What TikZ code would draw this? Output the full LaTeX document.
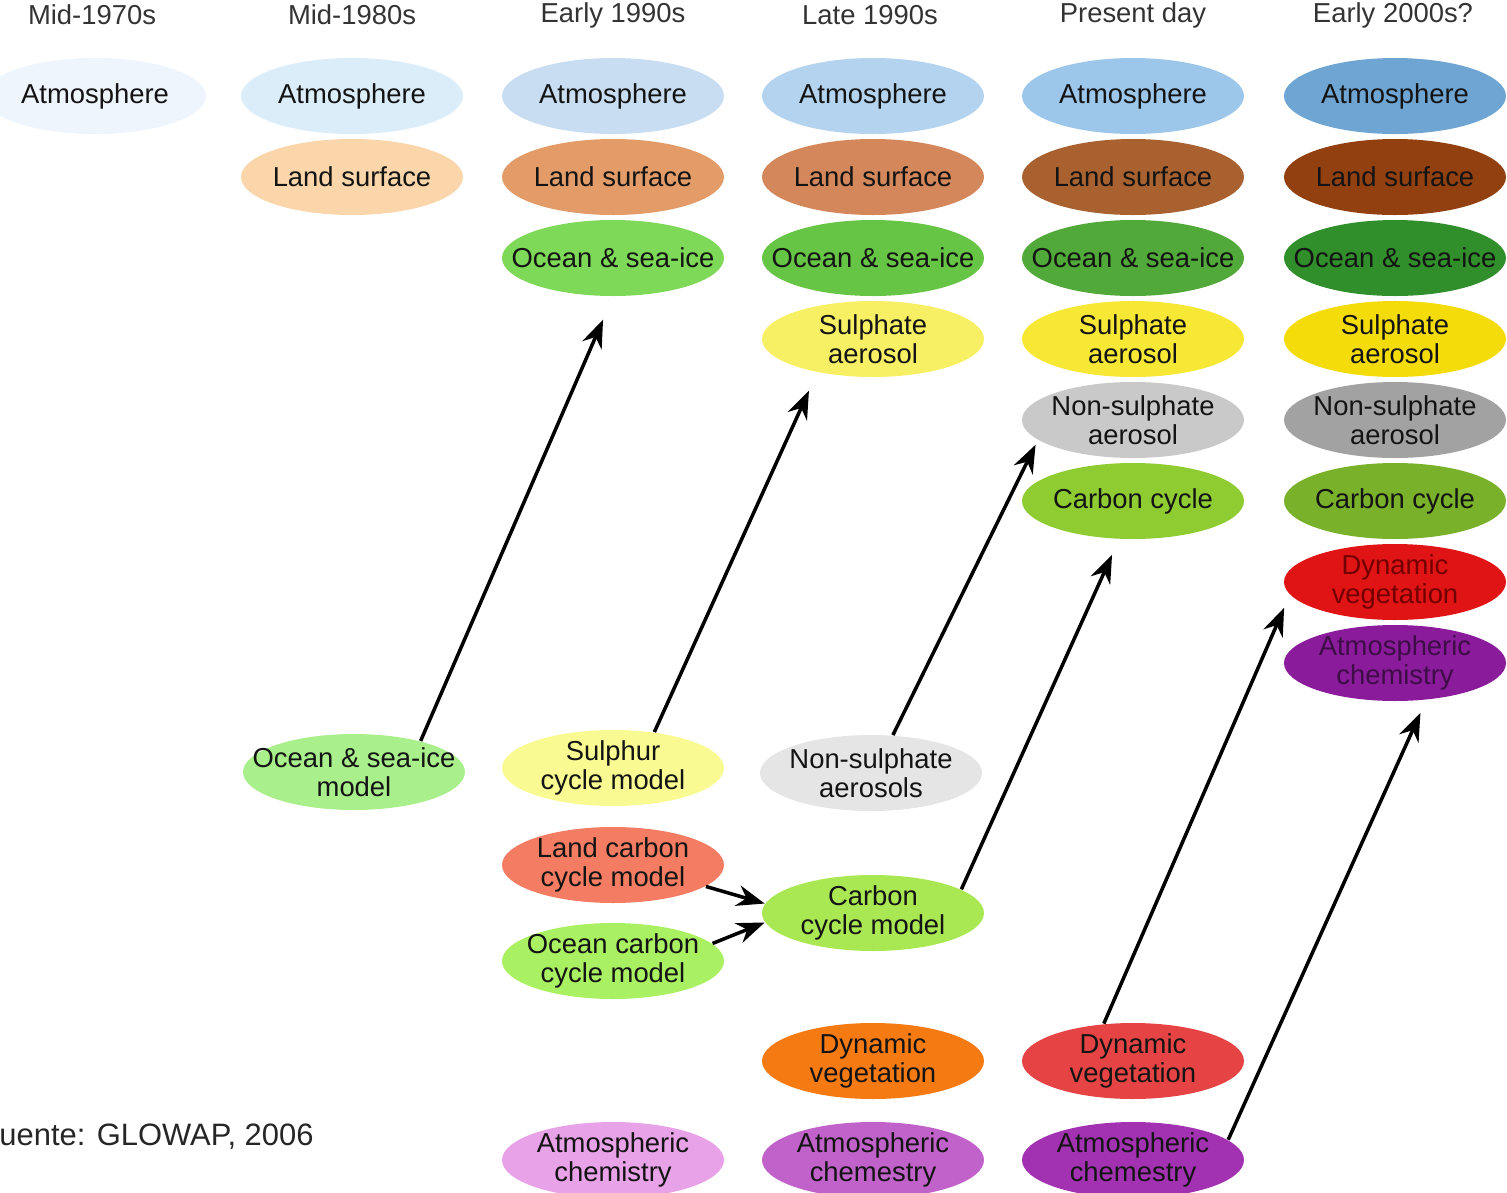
\documentclass[tikz,border=0pt]{standalone}
\usepackage{fontspec}
\setmainfont{Liberation Sans}
\usetikzlibrary{positioning,shapes.geometric,arrows.meta}

\definecolor{atmA}{HTML}{EEF5FC}
\definecolor{atmB}{HTML}{DCEDFA}
\definecolor{atmC}{HTML}{C9DDF2}
\definecolor{atmD}{HTML}{B3D3EF}
\definecolor{atmE}{HTML}{9CC6EA}
\definecolor{atmF}{HTML}{6FA5D2}
\definecolor{lndB}{HTML}{FAD6AA}
\definecolor{lndC}{HTML}{E39C68}
\definecolor{lndD}{HTML}{D4875A}
\definecolor{lndE}{HTML}{A9612F}
\definecolor{lndF}{HTML}{924010}
\definecolor{ocnC}{HTML}{7DD957}
\definecolor{ocnD}{HTML}{67C545}
\definecolor{ocnE}{HTML}{50A938}
\definecolor{ocnF}{HTML}{318F2B}
\definecolor{sulD}{HTML}{F8F064}
\definecolor{sulE}{HTML}{F6E834}
\definecolor{sulF}{HTML}{F4DC0A}
\definecolor{nsuE}{HTML}{C9C9C9}
\definecolor{nsuF}{HTML}{A2A2A2}
\definecolor{carE}{HTML}{8ECC32}
\definecolor{carF}{HTML}{7AB12B}
\definecolor{vegF}{HTML}{E01414}
\definecolor{chmF}{HTML}{8A1C9C}
\definecolor{osmB}{HTML}{A9F08C}
\definecolor{sulC}{HTML}{FAFA92}
\definecolor{nsuD}{HTML}{E5E5E5}
\definecolor{lccC}{HTML}{F47C62}
\definecolor{occC}{HTML}{A9F062}
\definecolor{ccmD}{HTML}{A9E852}
\definecolor{vegD}{HTML}{F57A12}
\definecolor{vegE}{HTML}{E64444}
\definecolor{chmC}{HTML}{E8A2E8}
\definecolor{chmD}{HTML}{C062C9}
\definecolor{chmE}{HTML}{A232B2}

\begin{document}
\begin{tikzpicture}[x=0.1mm, y=-0.1mm, node distance=8.1mm,
    blob/.style={ellipse, minimum width=22.2mm, minimum height=7.6mm, inner xsep=-7pt, inner ysep=-2pt, align=center, font=\fontsize{7.8}{8.3}\selectfont, text=black!92},
    yr/.style={font=\fontsize{7.8}{8.3}\selectfont, text=black!80},
    ar/.style={-{Stealth[length=2.8mm, width=2.1mm]}, line width=1pt}]

      \useasboundingbox (0,0) rectangle (1507,1193);

      % year headings
      \node[yr] (h1) at (92,15) {Mid-1970s};
      \node[yr] (h2) at (352,15) {Mid-1980s};
      \node[yr] (h3) at (613,15) {Early 1990s};
      \node[yr] (h4) at (870,15) {Late 1990s};
      \node[yr] (h5) at (1133,15) {Present day};
      \node[yr] (h6) at (1393,15) {Early 2000s?};

      % model components, one column per period
      \node[blob, fill=atmA] (a1) at (95,96) {Atmosphere};

      \node[blob, fill=atmB] (a2) at (352,96) {Atmosphere};
      \node[blob, fill=lndB] (l2) [below of=a2] {Land surface};

      \node[blob, fill=atmC] (a3) at (613,96) {Atmosphere};
      \node[blob, fill=lndC] (l3) [below of=a3] {Land surface};
      \node[blob, fill=ocnC] (o3) [below of=l3] {Ocean \& sea-ice};

      \node[blob, fill=atmD] (a4) at (873,96) {Atmosphere};
      \node[blob, fill=lndD] (l4) [below of=a4] {Land surface};
      \node[blob, fill=ocnD] (o4) [below of=l4] {Ocean \& sea-ice};
      \node[blob, fill=sulD] (s4) [below of=o4] {Sulphate\\aerosol};

      \node[blob, fill=atmE] (a5) at (1133,96) {Atmosphere};
      \node[blob, fill=lndE] (l5) [below of=a5] {Land surface};
      \node[blob, fill=ocnE] (o5) [below of=l5] {Ocean \& sea-ice};
      \node[blob, fill=sulE] (s5) [below of=o5] {Sulphate\\aerosol};
      \node[blob, fill=nsuE] (n5) [below of=s5] {Non-sulphate\\aerosol};
      \node[blob, fill=carE] (k5) [below of=n5] {Carbon cycle};

      \node[blob, fill=atmF] (a6) at (1395,96) {Atmosphere};
      \node[blob, fill=lndF] (l6) [below of=a6] {Land surface};
      \node[blob, fill=ocnF] (o6) [below of=l6] {Ocean \& sea-ice};
      \node[blob, fill=sulF] (s6) [below of=o6] {Sulphate\\aerosol};
      \node[blob, fill=nsuF] (n6) [below of=s6] {Non-sulphate\\aerosol};
      \node[blob, fill=carF] (k6) [below of=n6] {Carbon cycle};
      \node[blob, fill=vegF, text=red!45!black] (v6) [below of=k6] {Dynamic\\vegetation};
      \node[blob, fill=chmF, text=chmF!45!black] (c6) [below of=v6] {Atmospheric\\chemistry};

      % separately developed models
      \node[blob, fill=osmB] (osm) at (354,772) {Ocean \& sea-ice\\model};
      \node[blob, fill=sulC] (scm) at (613,768) {Sulphur\\cycle model};
      \node[blob, fill=nsuD] (nsa) at (871,773) {Non-sulphate\\aerosols};
      \node[blob, fill=lccC] (lcc) at (613,865) {Land carbon\\cycle model};
      \node[blob, fill=occC] (occ) at (613,961) {Ocean carbon\\cycle model};
      \node[blob, fill=ccmD] (ccm) at (873,913) {Carbon\\cycle model};
      \node[blob, fill=vegD] (v4) at (873,1061) {Dynamic\\vegetation};
      \node[blob, fill=vegE] (v5) at (1133,1061) {Dynamic\\vegetation};
      \node[blob, fill=chmC] (c3) at (613,1160) {Atmospheric\\chemistry};
      \node[blob, fill=chmD] (c4) at (873,1160) {Atmospheric\\chemestry};
      \node[blob, fill=chmE] (c5) at (1133,1160) {Atmospheric\\chemestry};

      \node[anchor=west, font=\fontsize{8.8}{10}\selectfont, text=black!85] (src) at (-13,1137) {uente: GLOWAP, 2006};

      % coupling arrows
      \draw[ar, shorten >=2.5mm] (osm.25) -- (o3.south);
      \draw[ar, shorten >=2mm] (scm.41) -- (s4.211);
      \draw[ar, shorten >=0.5mm] (nsa.60) -- (n5.192);
      \draw[ar, shorten >=1.7mm] (ccm.15) -- (k5.250);
      \draw[ar, shorten >=1.4mm] (v5.128) -- (v6.187);
      \draw[ar, shorten >=1.4mm] (c5.12) -- (c6.310);
      \draw[ar] (lcc.347) -- (ccm.175);
      \draw[ar] (occ.10) -- (ccm.185);
    \end{tikzpicture}
\end{document}
